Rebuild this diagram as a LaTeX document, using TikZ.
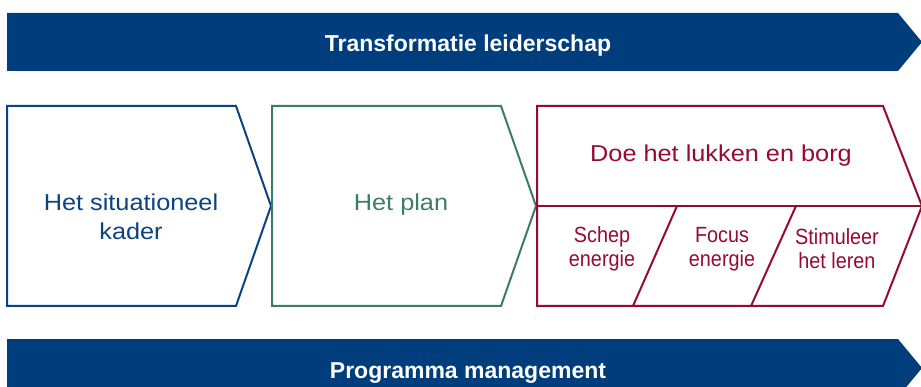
\documentclass[tikz,border=0pt]{standalone}
\usepackage{fontspec}
\usepackage{tikz}
\usetikzlibrary{positioning}
\setmainfont{Liberation Sans}
\newfontfamily\widefont[FakeStretch=1.1]{Liberation Sans}
\newfontfamily\narrowfont[FakeStretch=0.9]{Liberation Sans}
\definecolor{BannerBlue}{RGB}{0,61,124}
\definecolor{KaderBlue}{RGB}{10,66,130}
\definecolor{PlanGreen}{RGB}{60,124,98}
\definecolor{BorgRed}{RGB}{150,10,50}

\begin{document}
\begin{tikzpicture}[x=1pt,y=-1pt,
    banner/.style={fill=BannerBlue,draw=none},
    bannertext/.style={white,anchor=base,font=\fontsize{23}{27}\selectfont\bfseries},
    phase/.style={line width=2pt,line join=miter},
    phasetext/.style={align=center,font=\widefont\fontsize{23}{29}\selectfont},
    subtext/.style={align=center,font=\narrowfont\fontsize{22}{24}\selectfont,text=BorgRed}]
        \clip (0,0) rectangle (921,387);
        % banners
        \fill[banner] (7,13) -- (898,13) -- (922,42) -- (898,71) -- (7,71) -- cycle;
        \node[bannertext] (lead) at (468,52) {Transformatie leiderschap};
        \fill[banner] (7,339) -- (898,339) -- (922,368) -- (898,397) -- (7,397) -- cycle;
        \node[bannertext] (prog) at (468,378) {Programma management};
        % phases
        \draw[phase,KaderBlue] (7,106) -- (236,106) -- (271,206) -- (236,306) -- (7,306) -- cycle;
        \node[phasetext,text=KaderBlue] (kader) at (131,217) {Het situationeel\\kader};
        \draw[phase,PlanGreen] (272,106) -- (501,106) -- (536,206) -- (501,306) -- (272,306) -- cycle;
        \node[phasetext,text=PlanGreen,anchor=base] (plan) at (401,211) {Het plan};
        \draw[phase,BorgRed] (537,106) -- (883,106) -- (922,206) -- (883,306) -- (537,306) -- cycle;
        \draw[phase,BorgRed] (537,206) -- (922,206);
        \draw[phase,BorgRed] (677,206) -- (633,306);
        \draw[phase,BorgRed] (796,206) -- (751,306);
        \node[phasetext,text=BorgRed,anchor=base] (borg) at (721,162) {Doe het lukken en borg};
        \node[subtext] (schep) at (602,249) {Schep\\energie};
        \node[subtext] (focus) at (722,249) {Focus\\energie};
        \node[subtext] (stim) at (837,249) {Stimuleer\\het leren};
      \end{tikzpicture}
\end{document}
